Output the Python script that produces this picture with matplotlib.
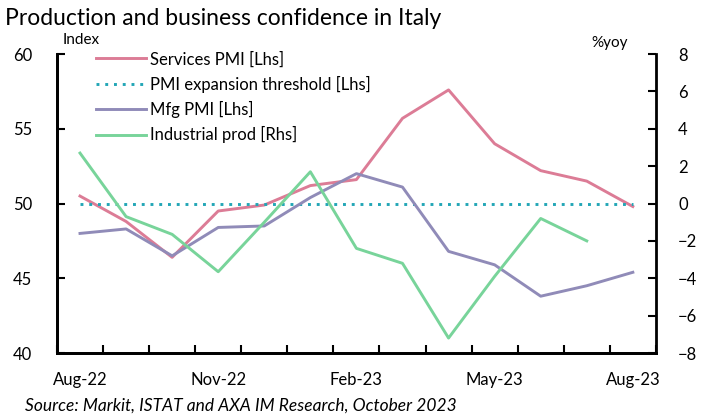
import numpy as np
import matplotlib
matplotlib.use("Agg")
from matplotlib import pyplot as plt

plt.rcParams['font.family'] = ['Lato', 'DejaVu Sans']

months = ["Aug-22", "Sep-22", "Oct-22", "Nov-22", "Dec-22", "Jan-23", "Feb-23",
          "Mar-23", "Apr-23", "May-23", "Jun-23", "Jul-23", "Aug-23"]
services_pmi = [50.5, 48.8, 46.4, 49.5, 49.9, 51.2, 51.6, 55.7, 57.6, 54.0, 52.2, 51.5, 49.8]
mfg_pmi = [48.0, 48.3, 46.5, 48.4, 48.5, 50.4, 52.0, 51.1, 46.8, 45.9, 43.8, 44.5, 45.4]
threshold = [50] * len(months)
industrial_prod = [2.7, -0.7, -1.65, -3.65, -1.0, 1.7, -2.4, -3.2, -7.2, -3.9, -0.8, -2.0]

pink = "#dc7c96"
purple = "#908bb8"
green = "#78d49a"
teal = "#22a6b6"

fig = plt.figure(figsize=(7.06, 4.19), dpi=100)
ax = fig.add_axes([0.0807, 0.1575, 0.8483, 0.7135])
ax2 = ax.twinx()

x = np.arange(len(months))
l1, = ax.plot(x, services_pmi, color=pink, linewidth=2.1, label="Services PMI [Lhs]")
l2, = ax.plot(x, threshold, color=teal, linewidth=2.1, linestyle=(0, (1, 2)),
              label="PMI expansion threshold [Lhs]")
l3, = ax.plot(x, mfg_pmi, color=purple, linewidth=2.1, label="Mfg PMI [Lhs]")
l4, = ax2.plot(x[:len(industrial_prod)], industrial_prod, color=green, linewidth=2.1,
               label="Industrial prod [Rhs]")

ax.set_xlim(-0.5, len(months) - 0.5)
ax.set_ylim(40, 60)
ax2.set_ylim(-8, 8)
ax.set_yticks([40, 45, 50, 55, 60])
ax2.set_yticks(np.arange(-8, 9, 2))

# labels every quarter, tick marks between every month
ax.set_xticks(x[::3])
ax.set_xticklabels(months[::3])
ax.set_xticks(np.arange(-0.5, len(months), 1), minor=True)
ax.tick_params(axis="x", which="major", length=0, pad=14, labelsize=12)
ax.tick_params(axis="x", which="minor", direction="in", length=6, width=1.5)
ax.tick_params(axis="y", direction="in", length=6, width=1.5, pad=18, labelsize=12)
ax2.tick_params(axis="y", direction="in", length=6, width=1.5, pad=16, labelsize=12)

for a in (ax, ax2):
    a.spines["top"].set_visible(False)
    for s in ("left", "right", "bottom"):
        a.spines[s].set_linewidth(2.0)
ax.spines["right"].set_visible(False)

ax.legend(handles=[l1, l2, l3, l4], loc="upper left", bbox_to_anchor=(0.04, 1.06),
          frameon=False, fontsize=12, handlelength=3.0, handletextpad=0.25,
          labelspacing=0.5)

fig.text(0.088, 0.895, "Index", fontsize=11)
fig.text(0.838, 0.888, "%yoy", fontsize=11)
fig.text(0.007, 0.955, "Production and business confidence in Italy", fontsize=16.5,
         va="center")
fig.text(0.035, 0.031, "Source: Markit, ISTAT and AXA IM Research, October 2023",
         fontsize=12.5, style="italic", va="center")

fig.savefig("out.png", dpi=100)
